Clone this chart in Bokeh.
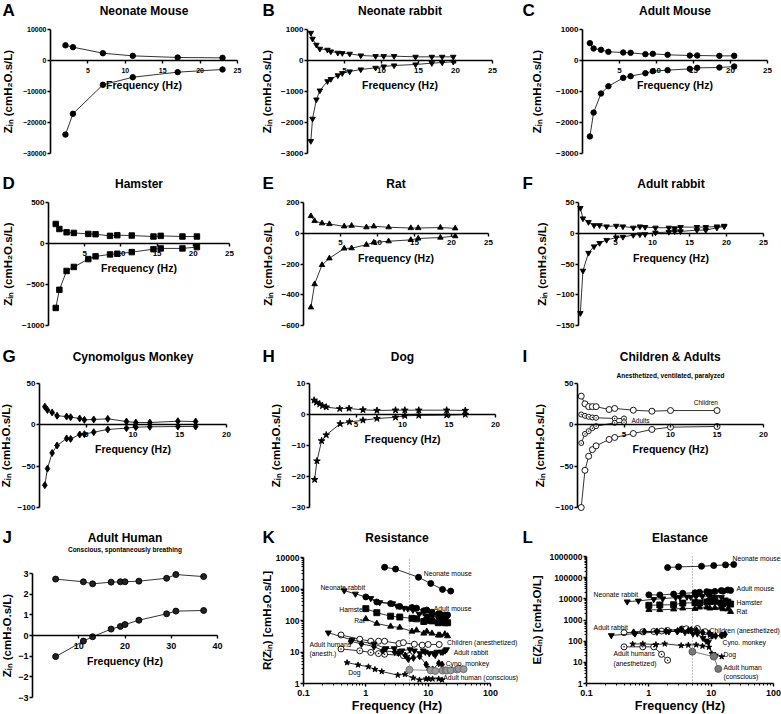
import math
from bokeh.plotting import figure
from bokeh.layouts import gridplot
from bokeh.models import (Range1d, FixedTicker, Label, LabelSet, ColumnDataSource,
                          CustomJSTickFormatter)
from bokeh.core.properties import value
from bokeh.embed import file_html
from bokeh.resources import INLINE

FONT = "Liberation Sans"
ZLABEL = "Zᵢₙ (cmH₂O.s/L)"

# ---------------- data ----------------
# A  Neonate mouse
A_f = [2, 3, 7, 11, 17, 23]
A_R = [4900, 4300, 2350, 1500, 970, 860]
A_X = [-23900, -17200, -7850, -5400, -3760, -2900]
# B  Neonate rabbit
B_f = [0.45, 0.68, 1.2, 1.67, 2.7, 3.15, 4.1, 4.7, 5.7, 7.2, 9.2, 10.3, 11.7, 14.6, 16.8, 18.2, 19.7]
B_R = [890, 700, 505, 376, 344, 290, 247, 237, 215, 161, 140, 140, 140, 118, 118, 118, 118]
B_X = [-2600, -1880, -1260, -970, -670, -600, -480, -410, -355, -290, -237, -194, -161, -129, -86, -65, -43]
# C  Adult mouse (D, E share these frequencies)
C_f = [1, 1.5, 2.5, 3.5, 5.5, 6.5, 8.5, 9.5, 11.5, 14.5, 15.5, 18.5, 20.5]
C_R = [560, 387, 344, 280, 258, 247, 204, 215, 183, 161, 161, 150, 150]
C_X = [-2450, -1680, -1065, -830, -560, -505, -410, -344, -312, -269, -237, -226, -194]
# D  Hamster
D_R = [238, 177, 137, 129, 117, 113, 93, 101, 97, 85, 93, 85, 85]
D_X = [-786, -565, -335, -286, -190, -157, -133, -125, -105, -69, -60, -60, -44]
# E  Rat
E_R = [112, 80, 65, 60, 45, 49, 39, 45, 39, 34, 34, 37, 32]
E_X = [-482, -331, -206, -163, -99, -97, -75, -60, -52, -43, -34, -28, -19]
# F  Adult rabbit
F_f = [0.25, 0.6, 1.35, 2.1, 2.85, 3.8, 5.1, 6.0, 7.4, 8.3, 9.0, 10.4, 12.2, 13.0, 13.8, 16.0, 17.2, 18.7, 19.7]
F_R = [41, 24, 18, 13, 13, 11, 12, 11, 9, 11, 10, 9, 9, 8, 10, 10, 10, 11, 12]
F_X = [-130, -61, -32, -21.5, -16, -11, -7, -6, -3, -2, -1.6, 1, 2, 3, 3, 5, 5, 9, 11]
# G  Cynomolgus monkey
G_f = [0.57, 0.85, 1.35, 1.88, 2.9, 3.33, 4.3, 4.8, 5.8, 7.3, 9.3, 10.3, 11.8, 14.8, 16.7]
G_R = [22, 18, 15, 11, 10, 9.3, 7.7, 6, 6.5, 7.3, 4, 2.8, 2.8, 4.4, 4]
G_X = [-73, -53, -34, -25, -16.5, -17, -11.7, -11.3, -8.9, -5.6, -4, -2.8, -2.4, -2, -2]
# H  Dog
H_fR = [0.5, 0.75, 1.1, 1.4, 1.8, 3.25, 4.25, 5.75, 7.25, 9.25, 10.25, 11.75, 14.75, 16.75]
H_R = [4.6, 3.9, 3.4, 2.8, 2.4, 1.85, 1.95, 1.5, 1.3, 1.4, 1.4, 1.4, 1.4, 1.3]
H_fX = [0.55, 0.8, 1.3, 1.8, 3.3, 4.3, 5.75, 7.25, 9.25, 10.25, 11.75, 14.75, 16.75]
H_X = [-21, -15, -8.5, -6.6, -3, -2.4, -1.85, -1.3, -0.9, -0.4, -0.3, -0.2, 0]
# I  Children & adults (anesthetized)
I_fc = [0.4, 0.8, 1.2, 1.6, 2.0, 3.4, 4.0, 6.0, 8.0, 10.0, 15.0]
I_Rc = [34.7, 25.4, 22, 22, 22, 18.5, 19.8, 17.7, 16.5, 17.3, 17.3]
I_Xc = [-100, -55, -38, -30, -25.4, -17.7, -15.3, -10.5, -5.6, -2.8, -2]
I_fa = [0.4, 0.8, 1.2, 1.6, 2.0, 4.0, 5.0]
I_Ra = [12.5, 10.9, 9.7, 8.9, 8.5, 7.7, 7.7]
I_Xa = [-22, -11, -7.7, -4, -1.6, 2.4, 3.2]
# J  Adult human (conscious)
J_f = [5, 11, 13, 17, 19, 20, 23, 29, 31, 37]
J_R = [2.73, 2.6, 2.5, 2.58, 2.6, 2.6, 2.63, 2.77, 2.95, 2.85]
J_X = [-1.02, -0.27, -0.06, 0.31, 0.44, 0.53, 0.74, 1.05, 1.18, 1.21]
# L  Elastance values
L_nm_E = [300000, 324000, 345000, 373000, 402000, 419000]
L_nr_E = [7350, 8030, 9500, 10200, 11400, 11900, 12400, 12100, 12700, 13100, 13700, 12600, 11800, 11800, 9100, 7400, 5300]
L_am_E = [15400, 15300, 16700, 18300, 19400, 20600, 21900, 20500, 22500, 24500, 23100, 26300, 25000]
L_ham_E = [4940, 5150, 5260, 6290, 6570, 6410, 7100, 7460, 7590, 6290, 5840, 6970, 5670]
L_rat_E = [3030, 3020, 3240, 3590, 3420, 3960, 4010, 3580, 3760, 3920, 3310, 3260, 2450]
L_ar_f = [0.25, 0.6, 1.35, 2.1, 2.85, 3.8, 5.1, 6.0, 7.4, 8.3, 9.0]
L_ar_E = [188, 226, 271, 286, 285, 263, 224, 226, 139, 104, 90]
L_ch_E = [251, 276, 286, 301, 319, 378, 385, 396, 281, 176, 188]
L_ad_f = [0.4, 0.8, 1.2, 1.6, 2.0]
L_ad_E = [54, 54, 54, 24, 12.6]
L_cy_E = [261, 283, 288, 295, 301, 356, 316, 341, 324, 257, 234, 181, 178, 186, 210]
L_dog_f = [0.55, 0.8, 1.3, 1.8, 3.3, 4.3, 5.75, 7.25, 9.25, 10.25, 11.75, 14.75]
L_dog_E = [73, 75, 69, 75, 62, 65, 67, 59, 52, 26, 22, 18.5]
L_ah_f = [5, 11, 13]
L_ah_E = [32, 18.7, 4.9]

# annotation texts (placed at data coordinates)
K_lab_text = ["Neonate mouse", "Neonate rabbit", "Adult mouse", "Hamster", "Rat",
              "Children (anesthetized)", "Adult humans", "(anesth.)", "Adult rabbit",
              "Cyno. monkey", "Dog", "Adult human (conscious)"]
K_lab_x = [8.5, 0.187, 12.3, 0.375, 0.65, 20.0, 0.125, 0.125, 25.7, 19.1, 0.52, 17.5]
K_lab_y = [3100, 1110, 240, 225, 100, 20, 17.3, 8.96, 9.6, 4.3, 2.23, 1.55]
L_lab_text = ["Neonate mouse", "Adult mouse", "Neonate rabbit", "Hamster", "Rat", "Adult rabbit",
              "Children (anesthetized)", "Cyno. monkey", "Dog", "Adult humans", "(anesthetized)",
              "Adult human", "(conscious)"]
L_lab_x = [22, 25.6, 0.13, 25.6, 25.6, 0.13, 9.4, 15.2, 15.8, 0.27, 0.27, 15.8, 15.8]
L_lab_y = [800000, 30800, 15900, 6700, 2530, 442, 318, 86, 23.5, 26, 8.8, 5.7, 2.14]


def style_axis(ax, tick_size, label_size, tick_standoff, label_standoff):
    ax.axis_line_width = 1.6
    ax.axis_line_color = "black"
    ax.major_tick_line_width = 1.4
    ax.major_tick_line_color = "black"
    ax.major_tick_out = 3
    ax.major_tick_in = 0
    ax.minor_tick_line_color = None
    ax.major_label_text_font = FONT
    ax.major_label_text_font_style = "bold"
    ax.major_label_text_font_size = tick_size
    ax.major_label_text_color = "black"
    ax.axis_label_text_font = FONT
    ax.axis_label_text_font_style = "bold"
    ax.axis_label_text_font_size = label_size
    ax.axis_label_text_color = "black"
    ax.major_label_standoff = tick_standoff
    ax.axis_label_standoff = label_standoff


class Panel:
    """A figure whose frame fills the whole cell; the data box sits at (L, T, FW, FH) px."""

    def __init__(self, W, H, box, xr, yr, log=False):
        L, FW, T, FH = box
        self.W, self.H, self.log = W, H, log
        f = math.log10 if log else (lambda v: v)
        x0, x1, y0, y1 = f(xr[0]), f(xr[1]), f(yr[0]), f(yr[1])
        sx, sy = (x1 - x0) / FW, (y1 - y0) / FH
        self.X0, self.X1 = x0 - L * sx, x1 + (W - L - FW) * sx
        self.Y0, self.Y1 = y0 - (H - T - FH) * sy, y1 + T * sy
        g = (lambda v: 10 ** v) if log else (lambda v: v)
        kw = dict(x_axis_type="log", y_axis_type="log") if log else {}
        p = figure(width=W, height=H, x_range=Range1d(g(self.X0), g(self.X1)),
                   y_range=Range1d(g(self.Y0), g(self.Y1)), output_backend="svg",
                   toolbar_location=None, min_border_left=0, min_border_right=0,
                   min_border_top=0, min_border_bottom=0, **kw)
        p.outline_line_color = None
        p.grid.visible = False
        p.title.visible = False
        p.xaxis.fixed_location = yr[0] if log else 0
        p.yaxis.fixed_location = xr[0]
        p.xaxis.bounds = (xr[0], xr[1])
        p.yaxis.bounds = (yr[0], yr[1])
        self.p = p

    def at(self, px, py):
        x = self.X0 + px * (self.X1 - self.X0) / self.W
        y = self.Y1 - py * (self.Y1 - self.Y0) / self.H
        if self.log:
            return 10 ** x, 10 ** y
        return x, y

    def text(self, px, py, s, size, bold=True, align="left"):
        x, y = self.at(px, py)
        self.p.add_layout(Label(x=x, y=y, text=s, text_font=FONT,
                                text_font_style="bold" if bold else "normal",
                                text_font_size=size, text_baseline="middle",
                                text_align=align, text_color="black"))


def draw(p, xs, ys, marker, fill, size=5.5, line="black", edge="black"):
    p.line(xs, ys, line_color=line, line_width=0.8)
    p.scatter(xs, ys, marker=marker, size=size, fill_color=fill, line_color=edge, line_width=0.9)


def zin_panel(letter, title, W, H, box, ty, xr, yr, xt, yt, series, ylab_standoff,
              subtitle=None, sty=None, tick_size="8px"):
    pn = Panel(W, H, box, xr, yr)
    p = pn.p
    p.xaxis.ticker = FixedTicker(ticks=xt)
    p.yaxis.ticker = FixedTicker(ticks=yt)
    p.xaxis.axis_label = "Frequency (Hz)"
    p.yaxis.axis_label = ZLABEL
    style_axis(p.xaxis[0], tick_size, "10.5px", 4, 3)
    style_axis(p.yaxis[0], tick_size, "11.5px", 1, ylab_standoff)
    for s in series:
        draw(p, *s)
    L, FW, T, FH = box
    pn.text(2, ty, letter, "17px")
    pn.text(L + FW / 2, ty, title, "12px", align="center")
    if subtitle:
        pn.text(L + FW / 2, sty, subtitle, "6.5px", align="center")
    return pn


def log_panel(letter, title, W, H, box, ty, yr, yt, ylabel, series, ltext, lx, ly, ylab_standoff):
    pn = Panel(W, H, box, (0.1, 100), yr, log=True)
    p = pn.p
    p.xaxis.ticker = FixedTicker(ticks=[0.1, 1, 10, 100],
                                 minor_ticks=[m * 10.0 ** e for e in range(-1, 2) for m in range(2, 10)])
    p.yaxis.ticker = FixedTicker(ticks=yt, minor_ticks=[m * t for t in yt[:-1] for m in range(2, 10)])
    fmt = CustomJSTickFormatter(code="return String(tick);")
    p.xaxis.formatter = fmt
    p.yaxis.formatter = fmt
    p.xaxis.axis_label = "Frequency (Hz)"
    p.yaxis.axis_label = ylabel
    style_axis(p.xaxis[0], "9px", "12.5px", 3, 0)
    style_axis(p.yaxis[0], "8.5px", "11.5px", 1, ylab_standoff)
    for ax in (p.xaxis[0], p.yaxis[0]):
        ax.minor_tick_line_color = "black"
        ax.minor_tick_line_width = 1
        ax.minor_tick_out = 2
        ax.minor_tick_in = 0
    # dotted reference line at 5 Hz spanning the axis range
    p.segment(x0=5, y0=yr[0], x1=5, y1=yr[1], line_color="#777777", line_dash="1 2", line_width=1)
    for s in series:
        draw(p, *s)
    src = ColumnDataSource(dict(x=lx, y=ly, t=ltext))
    p.add_layout(LabelSet(x="x", y="y", text="t", source=src, text_font=value(FONT),
                          text_font_size=value("6.8px"), text_baseline="middle", text_align="left",
                          text_color="black"))
    L, FW, T, FH = box
    pn.text(2, ty, letter, "17px")
    pn.text(L + FW / 2, ty, title, "12px", align="center")
    return pn


W1, W2, W3 = 260, 260, 261
H1, H2, H3, H4 = 170, 176, 182, 186
X25 = [5, 10, 15, 20, 25]
X20 = [5, 10, 15, 20]

pA = zin_panel("A", "Neonate Mouse", W1, H1, (50, 187, 29, 124), 10, (0, 25), (-30000, 10000), X25,
               [-30000, -20000, -10000, 0, 10000],
               [(A_f, A_R, "circle", "black"), (A_f, A_X, "circle", "black")], 6, tick_size="7px")
pB = zin_panel("B", "Neonate rabbit", W2, H1, (47, 185, 29, 124), 10, (0, 25), (-3000, 1000), X25,
               [-3000, -2000, -1000, 0, 1000],
               [(B_f, B_R, "inverted_triangle", "black"), (B_f, B_X, "inverted_triangle", "black")], 5)
pC = zin_panel("C", "Adult Mouse", W3, H1, (62, 185, 29, 124), 10, (0, 25), (-3000, 1000), X25,
               [-3000, -2000, -1000, 0, 1000],
               [(C_f, C_R, "circle", "black"), (C_f, C_X, "circle", "black")], 10)
pD = zin_panel("D", "Hamster", W1, H2, (48, 181, 32, 123), 13, (0, 25), (-1000, 500), X25,
               [-1000, -500, 0, 500],
               [(C_f, D_R, "square", "black"), (C_f, D_X, "square", "black")], 5)
pE = zin_panel("E", "Rat", W2, H2, (43, 185, 32, 123), 13, (0, 25), (-600, 200), X25,
               [-600, -400, -200, 0, 200],
               [(C_f, E_R, "triangle", "black"), (C_f, E_X, "triangle", "black")], 4)
pF = zin_panel("F", "Adult rabbit", W3, H2, (58, 185, 32, 123), 13, (0, 25), (-150, 50), X25,
               [-150, -100, -50, 0, 50],
               [(F_f, F_R, "inverted_triangle", "black"), (F_f, F_X, "inverted_triangle", "black")], 5)
pG = zin_panel("G", "Cynomolgus Monkey", W1, H3, (39, 187, 37, 124), 10, (0, 20), (-100, 50), X20,
               [-100, -50, 0, 50],
               [(G_f, G_R, "diamond", "black", 7), (G_f, G_X, "diamond", "black", 7)], 2)
pH = zin_panel("H", "Dog", W2, H3, (49, 186, 37, 124), 10, (0, 20), (-30, 10), X20,
               [-30, -20, -10, 0, 10],
               [(H_fR, H_R, "star", "black", 7), (H_fX, H_X, "star", "black", 7)], 7)
pI = zin_panel("I", "Children & Adults", W3, H3, (57, 186, 37, 124), 10, (0, 20), (-100, 50), X20,
               [-100, -50, 0, 50],
               [(I_fc, I_Rc, "circle", "white", 6), (I_fc, I_Xc, "circle", "white", 6),
                (I_fa, I_Ra, "circle_dot", "white", 5), (I_fa, I_Xa, "circle_dot", "white", 5)], 6,
               subtitle="Anesthetized, ventilated, paralyzed", sty=29)
pI.p.add_layout(Label(x=12.5, y=27, text="Children", text_font=FONT, text_font_size="6.5px",
                      text_baseline="middle", text_color="black"))
pI.p.add_layout(Label(x=5.8, y=5.3, text="Adults", text_font=FONT, text_font_size="6.5px",
                      text_baseline="middle", text_color="black"))
pJ = zin_panel("J", "Adult Human", W1, H4, (32, 185, 45, 124), 9, (0, 40), (-3, 3), [10, 20, 30, 40],
               [-3, -2, -1, 0, 1, 2, 3],
               [(J_f, J_R, "circle", "#222222", 6), (J_f, J_X, "circle", "#222222", 6)], 2,
               subtitle="Conscious, spontaneously breathing", sty=21, tick_size="9px")

GRAY = "#9a9a9a"
K_series = [
    (A_f, A_R, "circle", "black", 6),
    (B_f, B_R, "inverted_triangle", "black", 6),
    (C_f, C_R, "circle", "black", 6),
    (C_f, D_R, "square", "black", 6),
    (C_f, E_R, "triangle", "black", 6),
    (I_fc, I_Rc, "circle", "white", 6),
    (I_fa, I_Ra, "circle_dot", "white", 6),
    (F_f, F_R, "inverted_triangle", "black", 6),
    (G_f, G_R, "diamond", "black", 7),
    (H_fR, H_R, "star", "black", 6),
    (J_f, J_R, "circle", GRAY, 7, "#777777", "#666666"),
]
pK = log_panel("K", "Resistance", W2, H4, (43, 187, 29, 126), 9, (1, 10000), [1, 10, 100, 1000, 10000],
               "R(Zᵢₙ) [cmH₂O.s/L]", K_series, K_lab_text, K_lab_x, K_lab_y, 0)

L_series = [
    (A_f, L_nm_E, "circle", "black", 6),
    (B_f, L_nr_E, "inverted_triangle", "black", 6),
    (C_f, L_am_E, "circle", "black", 6),
    (C_f, L_ham_E, "square", "black", 6),
    (C_f, L_rat_E, "triangle", "black", 6),
    (I_fc, L_ch_E, "circle", "white", 6),
    (L_ad_f, L_ad_E, "circle_dot", "white", 6),
    (L_ar_f, L_ar_E, "inverted_triangle", "black", 6),
    (G_f, L_cy_E, "diamond", "black", 7),
    (L_dog_f, L_dog_E, "star", "black", 6),
    (L_ah_f, L_ah_E, "circle", "#777777", 7, "#555555", "#555555"),
]
pL = log_panel("L", "Elastance", W3, H4, (66, 187, 28, 127), 9, (1, 1000000),
               [1, 10, 100, 1000, 10000, 100000, 1000000],
               "E(Zᵢₙ) [cmH₂O/L]", L_series, L_lab_text, L_lab_x, L_lab_y, 3)

grid = gridplot([[pA.p, pB.p, pC.p], [pD.p, pE.p, pF.p], [pG.p, pH.p, pI.p], [pJ.p, pK.p, pL.p]],
                toolbar_location=None)
open("out.html", "w").write(file_html(grid, INLINE))
